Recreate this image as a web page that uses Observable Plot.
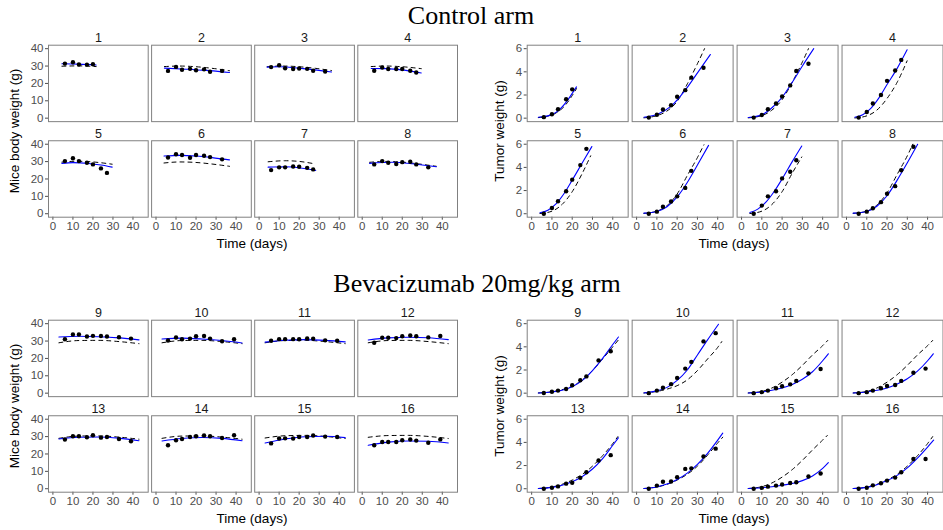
<!DOCTYPE html>
<html><head><meta charset="utf-8">
<script src="https://cdn.jsdelivr.net/npm/d3@7"></script>
<script src="https://cdn.jsdelivr.net/npm/@observablehq/plot@0.6"></script>
<style>
body{margin:0;background:#fff;}
#root{position:relative;width:943px;height:530px;overflow:hidden;font-family:"Liberation Sans",Arial,sans-serif;background:#fff;}
.abs{position:absolute;}
.title{font-family:"Liberation Serif","Times New Roman",serif;font-size:26px;color:#000;white-space:nowrap;transform:translate(-50%,-50%);line-height:1;}
.xlab{font-size:13.5px;color:#000;white-space:nowrap;transform:translate(-50%,-50%);line-height:1;}
.ylab{font-size:13.5px;color:#000;white-space:nowrap;transform:translate(-50%,-50%) rotate(-90deg);line-height:1;}
</style></head><body><div id="root"></div><script>
// ---- observation schedules (days) ----
const ctrlTimes = [6, 10, 13, 17, 20, 24, 27, 33];
const bevTimes = [6, 10, 13, 17, 20, 24, 27, 33, 39];
const ctrlMice = [1, 2, 3, 4, 5, 6, 7, 8];
const bevMice = [9, 10, 11, 12, 13, 14, 15, 16];

// ---- observed body weight (g), control arm ----
const bodyCtrl = [
  [31.4, 32.2, 30.9, 30.8, 31.0],
  [27.2, 29.5, 27.9, 28.4, 27.6, 28.1, 26.7, 27.2],
  [29.4, 30.5, 28.7, 28.3, 28.6, 28.4, 27.3, 26.9],
  [27.3, 29.2, 28.3, 28.3, 28.3, 27.3, 26.3],
  [30.3, 31.9, 30.3, 29.3, 28.4, 26.1, 23.5],
  [32.4, 34.2, 33.8, 32.2, 33.8, 33.4, 32.6, 31.3],
  [25.1, 26.7, 26.7, 27.2, 27.0, 26.4, 25.5],
  [28.4, 30.3, 29.3, 28.6, 29.7, 29.9, 28.4, 26.7]
];
// ---- observed body weight (g), bevacizumab arm ----
const bodyBev = [
  [31.0, 33.8, 33.8, 32.6, 33.0, 32.9, 32.6, 32.2, 31.4],
  [30.3, 32.0, 31.0, 31.4, 32.8, 32.9, 31.4, 29.9, 31.0],
  [30.2, 31.1, 31.1, 31.1, 31.0, 31.5, 31.3, 30.4, 30.2],
  [29.0, 31.9, 31.9, 31.7, 32.8, 33.2, 32.8, 32.1, 32.9],
  [28.3, 30.2, 30.2, 29.6, 30.8, 29.4, 29.8, 28.6, 27.3],
  [25.0, 27.9, 28.6, 29.8, 30.2, 30.6, 30.2, 29.2, 30.8],
  [26.1, 28.9, 29.0, 28.9, 29.8, 29.8, 30.6, 30.0, 29.8],
  [25.0, 26.9, 26.9, 26.9, 27.9, 28.3, 27.7, 26.5, 28.4]
];
// ---- individual fit, body weight [day, g] ----
const bodyFitCtrl = [
  [[4.5, 31.3], [13, 31.1], [21.6, 30.6]],
  [[4.2, 28.8], [15, 28.2], [25, 27.5], [36.7, 26.3]],
  [[4, 29.4], [10, 29.6], [22, 28.5], [36.2, 26.6]],
  [[4.5, 28.6], [12, 28.5], [20, 27.8], [29.5, 26.0]],
  [[4.5, 29.0], [10, 29.4], [18, 28.9], [24, 28.0], [29.6, 26.8]],
  [[4, 33.2], [12, 33.6], [20, 33.2], [28, 32.3], [36.7, 31.0]],
  [[4.5, 26.8], [13, 27.0], [20, 26.5], [28.3, 24.9]],
  [[3.7, 29.0], [15, 29.6], [25, 28.8], [37, 27.0]]
];
const bodyFitBev = [
  [[3, 32.3], [13, 32.8], [23, 32.5], [33, 31.8], [43, 30.7]],
  [[3, 31.2], [13, 31.7], [23, 31.2], [33, 30.3], [43, 28.9]],
  [[3, 29.4], [13, 30.5], [23, 30.8], [33, 30.4], [43, 29.5]],
  [[3, 30.6], [13, 31.8], [23, 32.2], [33, 31.9], [43, 30.8]],
  [[3, 28.6], [13, 29.6], [23, 29.8], [33, 29.1], [43, 27.6]],
  [[3, 27.5], [13, 28.9], [23, 29.5], [33, 29.0], [43, 27.6]],
  [[3, 26.3], [13, 28.6], [23, 29.9], [33, 30.2], [43, 29.4]],
  [[3, 25.0], [13, 26.8], [23, 27.5], [33, 27.3], [43, 26.3]]
];
// ---- population fit, body weight [day, g] ----
const bodyPopCtrl = [
  [[4.5, 29.9], [13, 30.1], [21.6, 29.7]],
  [[4.2, 29.7], [12, 30.0], [20, 29.6], [28, 28.7], [36.7, 27.3]],
  [[4, 29.6], [12, 30.0], [20, 29.6], [28, 28.7], [36.2, 27.4]],
  [[4.5, 29.7], [12, 30.0], [20, 29.6], [29.5, 28.5]],
  [[4.5, 29.7], [12, 30.2], [20, 29.8], [29.6, 28.5]],
  [[4, 29.2], [12, 29.8], [20, 29.5], [28, 28.6], [36.7, 27.3]],
  [[4.5, 29.9], [13, 30.5], [20, 30.1], [28.3, 28.6]],
  [[3.7, 29.6], [12, 30.1], [20, 29.7], [28, 28.7], [37, 27.3]]
];
const bodyPopBev = [
  [[3, 29.0], [13, 30.3], [23, 30.4], [33, 29.7], [43, 28.5]],
  [[3, 29.0], [13, 30.3], [23, 30.4], [33, 29.7], [43, 28.5]],
  [[3, 29.0], [13, 30.3], [23, 30.4], [33, 29.7], [43, 28.5]],
  [[3, 29.0], [13, 30.3], [23, 30.4], [33, 29.7], [43, 28.5]],
  [[3, 29.0], [13, 30.3], [23, 30.4], [33, 29.7], [43, 28.5]],
  [[3, 29.0], [13, 30.3], [23, 30.4], [33, 29.7], [43, 28.5]],
  [[3, 29.2], [13, 30.5], [23, 30.7], [33, 30.1], [43, 28.9]],
  [[3, 29.6], [13, 30.6], [23, 30.7], [33, 30.1], [43, 28.9]]
];

// ---- observed tumor weight (g) ----
const tumorCtrl = [
  [0.09, 0.34, 0.77, 1.63, 2.49],
  [0.05, 0.3, 0.75, 1.12, 1.85, 2.42, 3.5, 4.35],
  [0.05, 0.27, 0.77, 1.27, 1.88, 2.83, 4.07, 4.7],
  [0.05, 0.53, 1.27, 2.0, 3.22, 4.12, 5.03],
  [0.0, 0.5, 1.08, 1.94, 2.94, 4.2, 5.6],
  [0.0, 0.18, 0.6, 1.05, 1.5, 2.23, 3.7],
  [0.0, 0.7, 1.5, 1.94, 3.05, 3.62, 4.62],
  [0.0, 0.18, 0.47, 1.0, 1.73, 2.38, 3.76, 5.78]
];
const tumorBev = [
  [0.02, 0.12, 0.22, 0.36, 0.68, 1.12, 1.45, 2.83, 3.62],
  [0.0, 0.22, 0.47, 0.78, 1.32, 2.12, 2.7, 4.47, 5.18],
  [0.0, 0.09, 0.22, 0.42, 0.6, 0.76, 1.06, 1.71, 2.09],
  [0.0, 0.09, 0.22, 0.42, 0.62, 0.71, 1.06, 1.76, 2.12],
  [0.0, 0.09, 0.2, 0.44, 0.51, 0.94, 1.42, 2.44, 2.9],
  [0.0, 0.27, 0.6, 0.62, 1.0, 1.71, 1.76, 2.78, 3.46],
  [0.0, 0.07, 0.18, 0.27, 0.36, 0.5, 0.56, 1.06, 1.32],
  [0.0, 0.09, 0.29, 0.47, 0.7, 0.96, 1.42, 2.56, 2.56]
];
// ---- individual fit, tumor weight [day, g] ----
const tumorFitCtrl = [
  [[3.3, 0.08], [8, 0.2], [12, 0.5], [17.5, 1.5], [20.4, 2.25], [22.1, 2.7]],
  [[3.6, 0.08], [10.6, 0.37], [17.2, 1.06], [23.7, 2.35], [30.2, 3.95], [36.4, 5.5]],
  [[3.3, 0.06], [10, 0.3], [15, 0.9], [20, 1.8], [25, 3.1], [30, 4.5], [35.6, 6.0]],
  [[4.1, 0.08], [8, 0.3], [12, 0.85], [16, 1.75], [20, 2.9], [25, 4.3], [29.9, 5.9]],
  [[4.1, 0.08], [8, 0.3], [12, 0.85], [16, 1.75], [20, 2.9], [25, 4.4], [29.7, 5.8]],
  [[3.6, 0.05], [10, 0.2], [15, 0.6], [20, 1.45], [25, 2.7], [30, 4.2], [35.5, 5.9]],
  [[4.1, 0.1], [8, 0.4], [12, 1.0], [16, 1.9], [20, 3.0], [25, 4.5], [29.7, 5.85]],
  [[3.3, 0.05], [10, 0.2], [15, 0.65], [20, 1.55], [25, 2.9], [30, 4.4], [35.1, 6.0]]
];
const tumorFitBev = [
  [[3.3, 0.02], [10, 0.1], [15, 0.25], [20, 0.55], [25, 1.1], [30, 1.95], [35, 3.0], [40, 4.2], [42.8, 4.85]],
  [[3.6, 0.02], [10, 0.2], [15, 0.5], [20, 1.1], [25, 2.0], [30, 3.3], [35, 4.6], [40.4, 5.95]],
  [[3.3, 0.02], [10, 0.1], [15, 0.25], [20, 0.45], [25, 0.75], [30, 1.2], [35, 1.85], [40, 2.8], [42.8, 3.4]],
  [[3.3, 0.02], [10, 0.1], [15, 0.25], [20, 0.45], [25, 0.8], [30, 1.25], [35, 1.9], [40, 2.8], [42.8, 3.4]],
  [[3.3, 0.02], [10, 0.12], [15, 0.3], [20, 0.6], [25, 1.05], [30, 1.7], [35, 2.6], [40, 3.75], [42.8, 4.4]],
  [[3.6, 0.02], [10, 0.15], [15, 0.4], [20, 0.8], [25, 1.35], [30, 2.1], [35, 3.05], [40, 4.2], [42.5, 4.8]],
  [[3.3, 0.02], [10, 0.08], [15, 0.17], [20, 0.3], [25, 0.45], [30, 0.7], [35, 1.1], [40, 1.75], [42.8, 2.25]],
  [[3.3, 0.02], [10, 0.12], [15, 0.35], [20, 0.7], [25, 1.15], [30, 1.8], [35, 2.65], [40, 3.6], [43, 4.2]]
];
// ---- population fit, tumor weight [day, g] ----
const tumorPopCtrl = [
  [[3.3, 0.05], [8, 0.18], [12, 0.45], [16, 1.0], [20, 1.95], [22.1, 2.55]],
  [[3.6, 0.03], [10, 0.22], [15, 0.62], [20, 1.45], [25, 2.95], [30, 4.7], [33.5, 6.0]],
  [[3.3, 0.03], [10, 0.22], [15, 0.7], [20, 1.6], [25, 3.1], [30, 4.85], [33, 6.0]],
  [[4.1, 0.02], [10, 0.2], [15, 0.7], [20, 1.7], [25, 3.1], [29.9, 4.95]],
  [[4.1, 0.02], [10, 0.22], [15, 0.8], [20, 1.9], [25, 3.5], [29.1, 5.0]],
  [[3.6, 0.03], [10, 0.22], [15, 0.7], [20, 1.7], [25, 3.3], [30, 4.85], [33.2, 5.95]],
  [[4.1, 0.02], [10, 0.22], [15, 0.8], [20, 1.9], [25, 3.5], [29.7, 4.9]],
  [[3.3, 0.03], [10, 0.22], [15, 0.75], [20, 1.8], [25, 3.4], [30, 5.0], [32.7, 6.0]]
];
const tumorPopBev = [
  [[3.3, 0.02], [10, 0.12], [15, 0.3], [20, 0.6], [25, 1.15], [30, 1.95], [35, 2.95], [40, 4.0], [42.8, 4.6]],
  [[3.6, 0.02], [10, 0.15], [15, 0.35], [20, 0.65], [25, 1.15], [30, 1.95], [35, 2.95], [40, 3.95], [42, 4.45]],
  [[3.3, 0.02], [10, 0.15], [15, 0.45], [20, 0.95], [25, 1.6], [30, 2.4], [35, 3.3], [40, 4.1], [42.5, 4.55]],
  [[3.3, 0.02], [10, 0.15], [15, 0.45], [20, 0.95], [25, 1.6], [30, 2.4], [35, 3.3], [40, 4.1], [42.5, 4.55]],
  [[3.3, 0.02], [10, 0.15], [15, 0.38], [20, 0.75], [25, 1.25], [30, 1.95], [35, 2.85], [40, 3.9], [42.5, 4.5]],
  [[3.6, 0.02], [10, 0.15], [15, 0.38], [20, 0.75], [25, 1.25], [30, 1.95], [35, 2.9], [40, 3.95], [42.5, 4.45]],
  [[3.3, 0.02], [10, 0.18], [15, 0.5], [20, 1.0], [25, 1.65], [30, 2.45], [35, 3.35], [40, 4.2], [42.3, 4.6]],
  [[3.3, 0.02], [10, 0.14], [15, 0.38], [20, 0.75], [25, 1.25], [30, 1.95], [35, 2.85], [40, 3.9], [42.5, 4.5]]
];

// ---- axis ticks ----
const xTicks = [0, 10, 20, 30, 40];
const bodyTicks = [0, 10, 20, 30, 40];
const tumorTicks = [0, 2, 4, 6];

function facetPlot(cfg) {
  const pts = [], ind = [], pop = [], strips = [];
  cfg.mice.forEach((m, i) => {
    const col = i % 4, row = Math.floor(i / 4);
    cfg.obs[i].forEach((v, j) => pts.push({col, row, t: cfg.times[j], v}));
    cfg.fit[i].forEach(([t, v]) => ind.push({col, row, m, t, v}));
    cfg.pop[i].forEach(([t, v]) => pop.push({col, row, m, t, v}));
    strips.push({col, row, label: String(m)});
  });
  const svg = Plot.plot({
    width: cfg.width, height: cfg.height,
    marginLeft: cfg.mL, marginRight: cfg.mR, marginTop: cfg.mT, marginBottom: cfg.mB,
    style: {fontFamily: "'Liberation Sans', Arial, sans-serif", fontSize: "11.5px", color: "#4d4d4d", background: "transparent", overflow: "visible"},
    fx: {domain: [0, 1, 2, 3], paddingInner: cfg.padX, paddingOuter: 0, round: false, axis: null},
    fy: {domain: [0, 1], paddingInner: 0.2, paddingOuter: 0, round: false, axis: null},
    x: {domain: [-2.2, 47.6], ticks: xTicks, tickFormat: d => String(d), tickSize: 3, tickPadding: 2, label: null},
    y: {domain: cfg.yDomain, ticks: cfg.yTicks, tickFormat: d => String(d), tickSize: 3, tickPadding: 2, label: null},
    marks: [
      Plot.frame({stroke: "#808080", strokeWidth: 1}),
      Plot.line(pop, {x: "t", y: "v", fx: "col", fy: "row", z: "m", stroke: "black", strokeWidth: 1, strokeDasharray: "4,4", curve: "monotone-x"}),
      Plot.line(ind, {x: "t", y: "v", fx: "col", fy: "row", z: "m", stroke: "blue", strokeWidth: 1.1, curve: "monotone-x"}),
      Plot.dot(pts, {x: "t", y: "v", fx: "col", fy: "row", r: 2.2, fill: "black", stroke: null}),
      Plot.text(strips, {fx: "col", fy: "row", text: "label", frameAnchor: "top", dy: -7, lineAnchor: "middle", fill: "#1a1a1a", fontSize: 12.5})
    ]
  });
  svg.style.position = "absolute";
  svg.style.left = cfg.left + "px";
  svg.style.top = cfg.top + "px";
  return svg;
}

const root = document.getElementById("root");
root.appendChild(facetPlot({mice: ctrlMice, times: ctrlTimes, obs: bodyCtrl, fit: bodyFitCtrl, pop: bodyPopCtrl,
  yDomain: [-2, 42], yTicks: bodyTicks, left: 0, top: 30, width: 470, height: 230, mL: 48, mR: 13, mT: 14.7, mB: 43.3, padX: 0.033}));
root.appendChild(facetPlot({mice: ctrlMice, times: ctrlTimes, obs: tumorCtrl, fit: tumorFitCtrl, pop: tumorPopCtrl,
  yDomain: [-0.3, 6.3], yTicks: tumorTicks, left: 470, top: 30, width: 473, height: 230, mL: 56.7, mR: 0.5, mT: 14.7, mB: 43.3, padX: 0.038}));
root.appendChild(facetPlot({mice: bevMice, times: bevTimes, obs: bodyBev, fit: bodyFitBev, pop: bodyPopBev,
  yDomain: [-2, 42], yTicks: bodyTicks, left: 0, top: 305, width: 470, height: 225, mL: 48, mR: 13, mT: 14.7, mB: 38.3, padX: 0.033}));
root.appendChild(facetPlot({mice: bevMice, times: bevTimes, obs: tumorBev, fit: tumorFitBev, pop: tumorPopBev,
  yDomain: [-0.3, 6.3], yTicks: tumorTicks, left: 470, top: 305, width: 473, height: 225, mL: 56.7, mR: 0.5, mT: 14.7, mB: 38.3, padX: 0.038}));

function label(cls, text, x, y) {
  const d = document.createElement("div");
  d.className = "abs " + cls;
  d.textContent = text;
  d.style.left = x + "px";
  d.style.top = y + "px";
  root.appendChild(d);
}
label("title", "Control arm", 471, 16);
label("title", "Bevacizumab 20mg/kg arm", 477, 284);
label("xlab", "Time (days)", 252, 243.5);
label("xlab", "Time (days)", 734, 243.5);
label("xlab", "Time (days)", 252, 518.5);
label("xlab", "Time (days)", 734, 518.5);
label("ylab", "Mice body weight (g)", 15, 131);
label("ylab", "Tumor weight (g)", 500, 131);
label("ylab", "Mice body weight (g)", 15, 406);
label("ylab", "Tumor weight (g)", 500, 406);
</script></body></html>
